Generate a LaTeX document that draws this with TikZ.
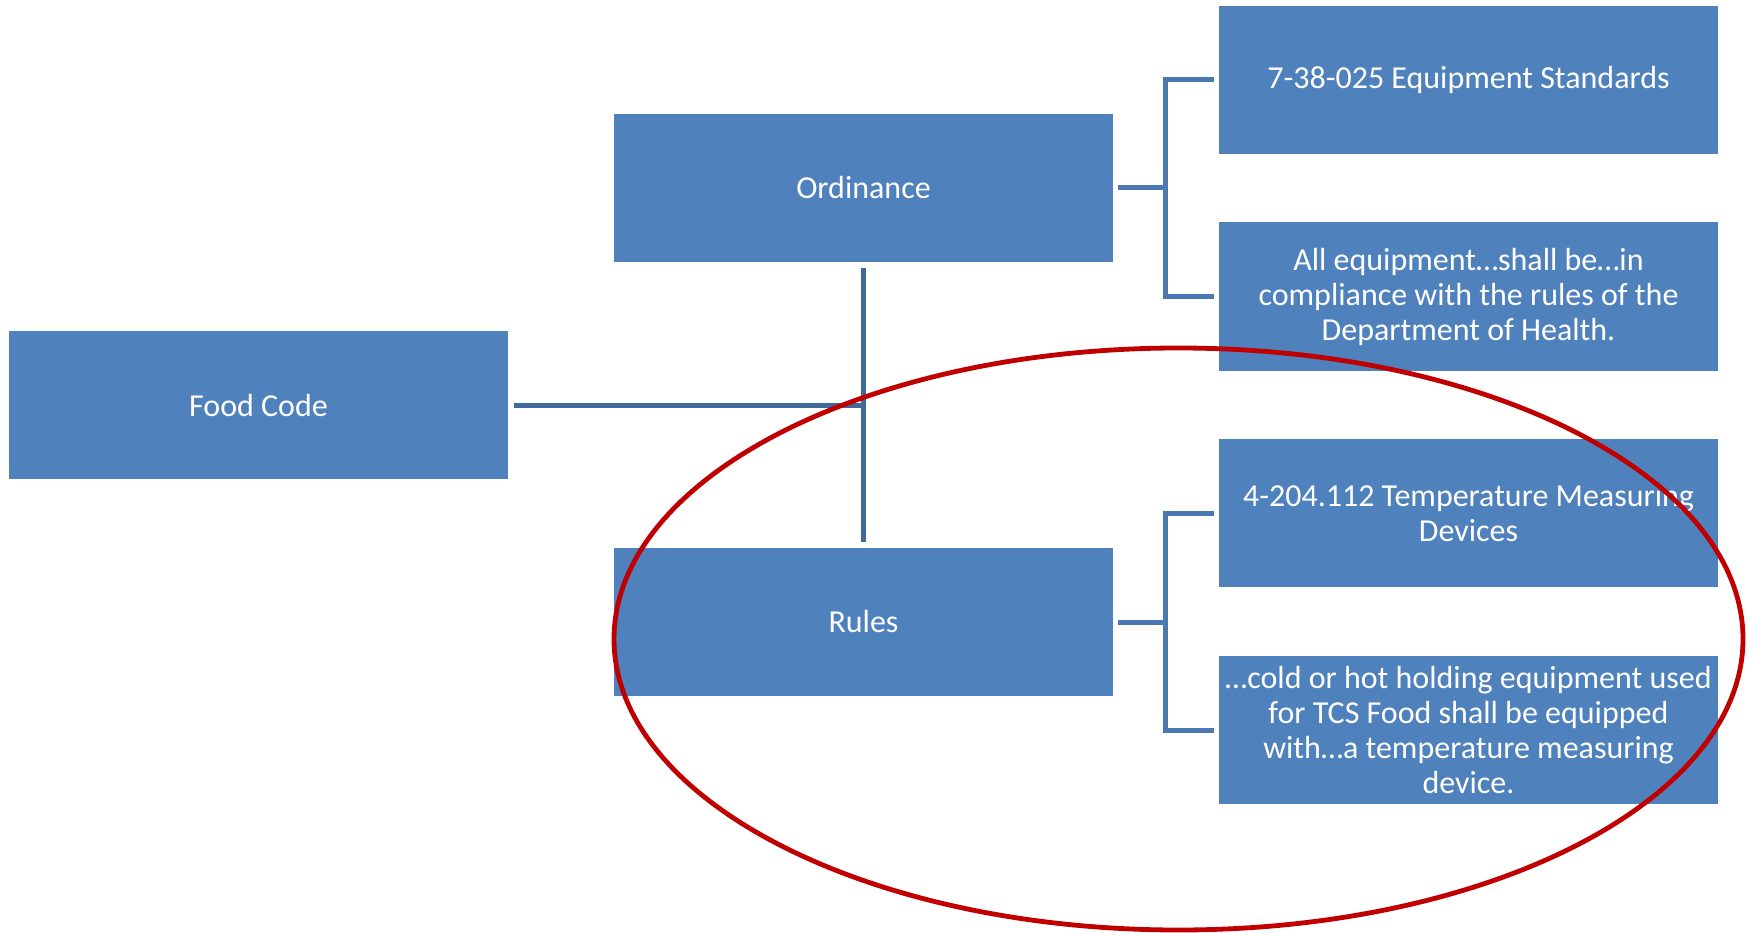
\documentclass[tikz,border=0pt]{standalone}
\usepackage{fontspec}
\usetikzlibrary{shapes.geometric}
\setmainfont{Carlito}
\definecolor{boxblue}{HTML}{4F81BD}
\definecolor{mainline}{HTML}{3F6A9A}
\definecolor{brline}{HTML}{4A78B0}
\definecolor{ovalred}{HTML}{C00000}
\begin{document}
\begin{tikzpicture}[x=1pt,y=-1pt,
  bluebox/.style={fill=boxblue, draw=none, minimum width=499pt, minimum height=148pt,
    inner sep=0pt, text=white, align=center, font=\fontsize{32}{35}\selectfont},
  mainconn/.style={draw=mainline, line width=5pt},
  brconn/.style={draw=brline, line width=5pt, line join=miter},
  oval/.style={draw=ovalred, line width=4.8pt}]
\useasboundingbox (0,0) rectangle (1748,933);
\node[bluebox] (food) at (258.5,405) {Food Code};
\node[bluebox] (ord) at (863.5,188) {Ordinance};
\node[bluebox] (rules) at (863.5,622) {Rules};
\node[bluebox] (r1) at (1468.5,80) {7-38-025 Equipment Standards};
\node[bluebox] (r2) at (1468.5,296.5) {All equipment…shall be…in\\compliance with the rules of the\\Department of Health.};
\node[bluebox] (r3) at (1468.5,513) {4-204.112 Temperature Measuring\\Devices};
\node[bluebox] (r4) at (1468.5,730) {…cold or hot holding equipment used\\for TCS Food shall be equipped\\with…a temperature measuring\\device.};
\coordinate (j) at (863.5,405);
\draw[mainconn] ([xshift=6pt]food.east) -- (j);
\draw[mainconn] ([yshift=-6pt]ord.south) -- ([yshift=6pt]rules.north);
\draw[brconn] ([xshift=5pt]ord.east) -- ([xshift=53pt]ord.east);
\draw[brconn] ([xshift=-5pt]r1.west) -- ([xshift=-53pt]r1.west) -- ([xshift=-53pt]r2.west) -- ([xshift=-5pt]r2.west);
\draw[brconn] ([xshift=5pt]rules.east) -- ([xshift=53pt]rules.east);
\draw[brconn] ([xshift=-5pt]r3.west) -- ([xshift=-53pt]r3.west) -- ([xshift=-53pt]r4.west) -- ([xshift=-5pt]r4.west);
\node[oval, ellipse, minimum width=1129pt, minimum height=582pt, inner sep=0pt] (ring) at (1178.5,639) {};
\end{tikzpicture}
\end{document}
